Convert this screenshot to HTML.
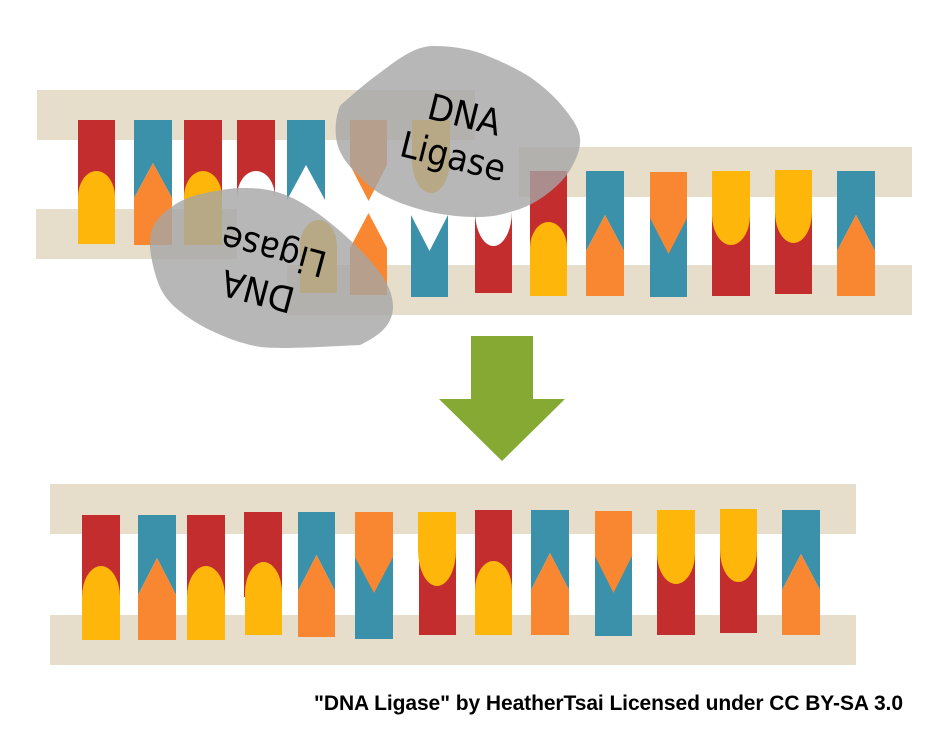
<!DOCTYPE html>
<html>
<head>
<meta charset="utf-8">
<style>
html,body{margin:0;padding:0;background:#fff;}
svg{display:block;}
.r{fill:#c32d2e}.t{fill:#3a91a9}.o{fill:#f98731}.y{fill:#ffb60a}.b{fill:#e6decb}
.blob{fill:#a5a5a5;fill-opacity:.8}
.lig{font-family:"DejaVu Sans",sans-serif;font-size:36px;fill:#000;text-anchor:middle}
</style>
</head>
<body>
<svg width="943" height="740" viewBox="0 0 943 740" xmlns="http://www.w3.org/2000/svg">
<rect width="943" height="740" fill="#fff"/>
<!-- top strand backbones -->
<rect class="b" x="37" y="90" width="438" height="50"/>
<rect class="b" x="36" y="209" width="201" height="50"/>
<rect class="b" x="519" y="147" width="393" height="50"/>
<rect class="b" x="287" y="265" width="625" height="50"/>
<!-- top strand left segment -->
<rect class="r" x="78" y="120" width="37" height="80"/>
<path class="y" d="M78,244V197A18.500,26 0 0 1 115,197V244Z"/>
<path class="t" d="M134,120H172V198L153,163L134,198Z"/>
<path class="o" d="M134,245V198L153,163L172,198V245Z"/>
<rect class="r" x="184" y="120" width="38" height="80"/>
<path class="y" d="M184,245V197A19,26 0 0 1 222,197V245Z"/>
<path class="r" d="M237,120H275V197A19,26 0 0 0 237,197Z"/>
<path class="t" d="M287,120H325V200L306,165L287,200Z"/>
<path class="o" d="M350,120H387V165L368.500,201L350,165Z"/>
<path class="y" d="M412,120H450V160A19,33 0 0 1 412,160Z"/>
<!-- top strand lower-right pieces -->
<path class="y" d="M300,293V246A18.500,26 0 0 1 337,246V293Z"/>
<path class="o" d="M350,295V248L368.500,213L387,248V295Z"/>
<path class="t" d="M411,215L429.500,251L448,215V297H411Z"/>
<path class="r" d="M475,211A18.500,35 0 0 0 512,211V293H475Z"/>
<rect class="r" x="530" y="171" width="37" height="80"/>
<path class="y" d="M530,296V248A18.500,26 0 0 1 567,248V296Z"/>
<path class="t" d="M586,171H624V251L605,215L586,251Z"/>
<path class="o" d="M586,296V251L605,215L624,251V296Z"/>
<rect class="t" x="650" y="215" width="37" height="82"/>
<path class="o" d="M650,172H687V218L668.500,254L650,218Z"/>
<rect class="r" x="712" y="215" width="38" height="81"/>
<path class="y" d="M712,171H750V215A19,30 0 0 1 712,215Z"/>
<rect class="r" x="775" y="210" width="37" height="84"/>
<path class="y" d="M775,170H812V212A18.500,31 0 0 1 775,212Z"/>
<path class="t" d="M837,171H875V251L856,215L837,251Z"/>
<path class="o" d="M837,296V251L856,215L875,251V296Z"/>
<!-- ligase blobs -->
<path class="blob" d="M343,103C349,98 362,86 373,78C384,70 396,60 407,54C416,49 424,46 434,46C449,46 465,48 480,53C496,59 516,68 530,77C544,87 555,97 563,107C571,117 579,127 580,138C581,149 576,160 570,170C564,180 554,189 543,197C533,204 522,209 510,212C498,216 487,217 475,217C460,217 445,215 430,212C414,208 399,203 387,197C375,192 367,184 360,177C353,170 347,164 343,157C339,150 337,145 336,137C335,129 336,118 338,112C339,108 340,105 343,103Z"/>
<path class="blob" d="M360,345C368,341 377,336 383,330C389,324 393,316 393,307C393,298 390,288 383,277C376,266 362,251 350,240C338,229 325,218 313,210C301,202 292,197 280,193C268,189 257,188 243,188C229,188 209,192 197,195C185,198 177,203 170,208C163,213 156,220 153,227C150,233 150,240 150,247C151,260 156,281 163,293C171,306 184,315 197,323C210,331 229,339 243,343C257,347 264,348 283,348C302,348 340,346 360,345Z"/>
<text class="lig" transform="translate(461.500,127) rotate(14)" textLength="74" lengthAdjust="spacingAndGlyphs">DNA</text>
<text class="lig" transform="translate(450,168.500) rotate(14)" textLength="107" lengthAdjust="spacingAndGlyphs">Ligase</text>
<text class="lig" transform="translate(261,279) rotate(195)" textLength="74" lengthAdjust="spacingAndGlyphs">DNA</text>
<text class="lig" transform="translate(277,239) rotate(195)" textLength="107" lengthAdjust="spacingAndGlyphs">Ligase</text>
<!-- arrow -->
<path fill="#85a932" d="M471,336H533V399H565L502,461L439,399H471Z"/>
<!-- bottom strand -->
<rect class="b" x="50" y="484" width="806" height="50"/>
<rect class="b" x="50" y="615" width="806" height="50"/>
<rect class="r" x="82" y="515" width="38" height="85"/>
<path class="y" d="M82,640V597A19,31 0 0 1 120,597V640Z"/>
<path class="t" d="M138,515H176V595L157,558L138,595Z"/>
<path class="o" d="M138,640V595L157,558L176,595V640Z"/>
<rect class="r" x="187" y="515" width="38" height="85"/>
<path class="y" d="M187,640V597A19,31 0 0 1 225,597V640Z"/>
<rect class="r" x="244" y="512" width="38" height="85"/>
<path class="y" d="M245,635V593A18.500,31 0 0 1 282,593V635Z"/>
<path class="t" d="M298,512H335V591L316.500,555L298,591Z"/>
<path class="o" d="M298,637V591L316.500,555L335,591V637Z"/>
<rect class="t" x="355" y="555" width="38" height="84"/>
<path class="o" d="M355,512H393V557L374,593L355,557Z"/>
<rect class="r" x="419" y="550" width="37" height="85"/>
<path class="y" d="M418,512H456V550A19,36 0 0 1 418,550Z"/>
<rect class="r" x="475" y="510" width="37" height="85"/>
<path class="y" d="M475,635V590A18.500,29 0 0 1 512,590V635Z"/>
<path class="t" d="M531,510H569V590L550,553L531,590Z"/>
<path class="o" d="M531,635V590L550,553L569,590V635Z"/>
<rect class="t" x="595" y="555" width="37" height="81"/>
<path class="o" d="M595,511H632V556L613.500,593L595,556Z"/>
<rect class="r" x="657" y="550" width="38" height="85"/>
<path class="y" d="M657,510H695V553A19,31 0 0 1 657,553Z"/>
<rect class="r" x="720" y="545" width="37" height="88"/>
<path class="y" d="M720,509H757V550A18.500,32 0 0 1 720,550Z"/>
<path class="t" d="M782,510H820V590L801,554L782,590Z"/>
<path class="o" d="M782,635V590L801,554L820,590V635Z"/>
<!-- credit -->
<text x="314" y="710" font-family="'Liberation Sans',sans-serif" font-weight="bold" font-size="21" fill="#000" textLength="589" lengthAdjust="spacing">"DNA Ligase" by HeatherTsai Licensed under CC BY-SA 3.0</text>
</svg>
</body>
</html>
